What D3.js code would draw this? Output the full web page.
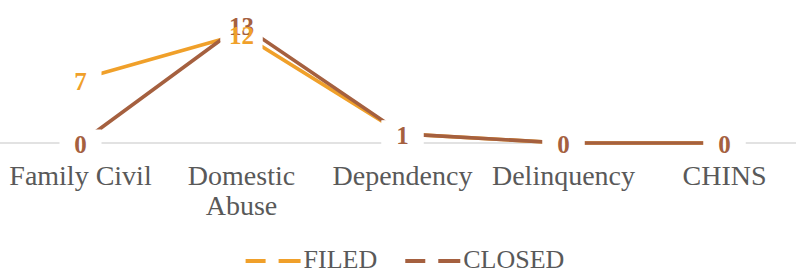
<!DOCTYPE html>
<html>
<head>
<meta charset="utf-8">
<script src="https://cdn.jsdelivr.net/npm/d3@7"></script>
</head>
<body style="margin:0">
<svg id="chart" width="796" height="269"></svg>
<script>
// ---- data ----
const categories = ["Family Civil", "Domestic Abuse", "Dependency", "Delinquency", "CHINS"];
const tickLabels = [["Family Civil"], ["Domestic", "Abuse"], ["Dependency"], ["Delinquency"], ["CHINS"]];
const seriesNames = ["FILED", "CLOSED"];
const filed = [7, 12, 1, 0, 0];
const closed = [0, 13, 1, 0, 0];
const colors = ["#F0A02A", "#A5603F"];

// ---- layout ----
const svg = d3.select("#chart");
const fam = "'Liberation Serif'";

const x = d3.scaleBand().domain(categories).range([0, 805]).paddingInner(0).paddingOuter(0);
const cx = c => x(c) + x.bandwidth() / 2;
const y = d3.scaleLinear().domain([0, 14]).range([143, 15.6]);

// baseline (category axis line)
svg.append("line")
  .attr("x1", x.range()[0]).attr("x2", x.range()[1])
  .attr("y1", y(0)).attr("y2", y(0))
  .attr("stroke", "#D9D9D9").attr("stroke-width", 1.6);

// category labels
categories.forEach((c, i) => {
  tickLabels[i].forEach((ln, j) => {
    svg.append("text").style("font-family", fam).attr("font-size", 28)
      .attr("x", cx(c)).attr("y", 185 + j * 30)
      .attr("fill", "#595959").attr("text-anchor", "middle").text(ln);
  });
});

// lines
const series = [
  { name: seriesNames[0], values: filed, color: colors[0] },
  { name: seriesNames[1], values: closed, color: colors[1] }
];
const line = d3.line().x((d, i) => cx(categories[i])).y(d => y(d));
series.forEach(s => {
  svg.append("path").datum(s.values)
    .attr("d", line).attr("fill", "none")
    .attr("stroke", s.color).attr("stroke-width", 3.6)
    .attr("stroke-linejoin", "round");
});

// label boxes (white) then texts
const boxW = 42, boxH = 30;
series.forEach(s => {
  s.values.forEach((v, i) => {
    svg.append("rect")
      .attr("x", cx(categories[i]) - boxW / 2).attr("y", y(v) + 1.5 - boxH / 2)
      .attr("width", boxW).attr("height", boxH).attr("fill", "#fff");
  });
});
// CLOSED labels first, then FILED labels where they differ
[series[1], series[0]].forEach((s, k) => {
  s.values.forEach((v, i) => {
    if (k === 1 && v === closed[i]) return;
    svg.append("text").style("font-family", fam).attr("font-size", 25).attr("font-weight", "bold")
      .attr("x", cx(categories[i])).attr("y", y(v) + 1.5)
      .attr("dy", "0.35em").attr("text-anchor", "middle").attr("fill", s.color).text(v);
  });
});

// legend
const legG = svg.append("g");
const markerW = 55, textGap = 3, itemGap = 28;
let cursor = 0;
series.forEach((s, i) => {
  const g = legG.append("g").attr("transform", `translate(${cursor},0)`);
  g.append("line").attr("x1", 0).attr("x2", markerW).attr("y1", 261).attr("y2", 261)
    .attr("stroke", s.color).attr("stroke-width", 4).attr("stroke-dasharray", "20,13,22");
  const t = g.append("text").style("font-family", fam).attr("font-size", 26)
    .attr("x", markerW + textGap).attr("y", 268).attr("fill", "#595959").text(s.name);
  cursor += markerW + textGap + t.node().getComputedTextLength() + itemGap;
});
const totalW = cursor - itemGap;
legG.attr("transform", `translate(${405 - totalW / 2},0)`);
</script>
</body>
</html>
